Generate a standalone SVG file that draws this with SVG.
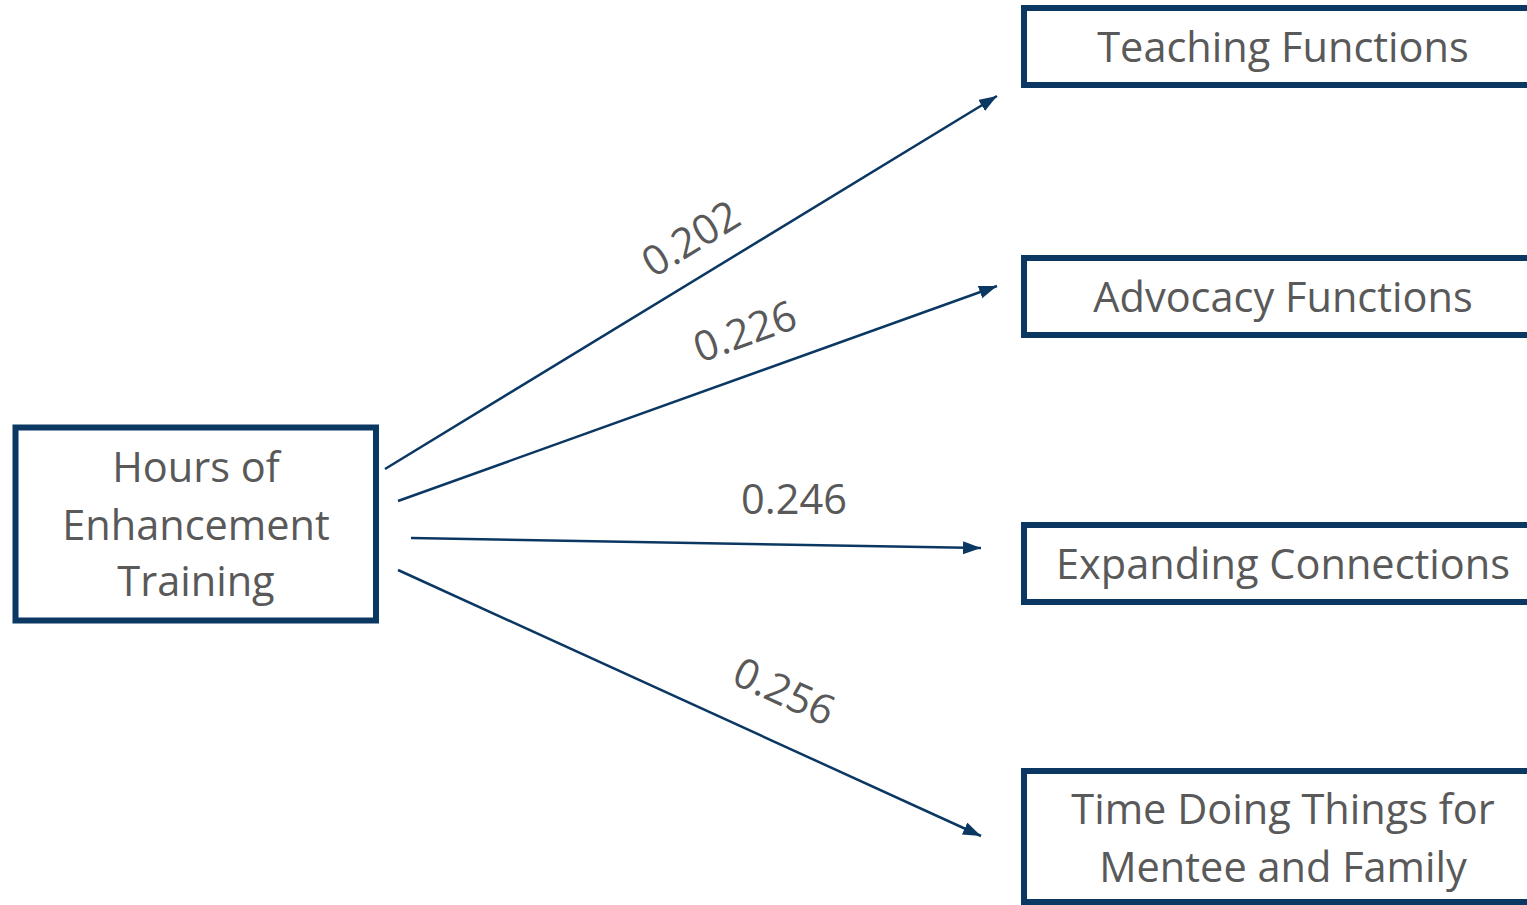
<svg xmlns="http://www.w3.org/2000/svg" width="1527" height="905" viewBox="0 0 1527 905">
<defs>
<marker id="arr" markerUnits="userSpaceOnUse" markerWidth="20" markerHeight="14" refX="18" refY="6.5" orient="auto">
<path d="M0,0 L18,6.5 L0,13 Z" fill="#0b3763"/>
</marker>
<style>
.box{fill:#ffffff;stroke:#0b3763;stroke-width:6}
.t{font-family:"Open Sans","Noto Sans","DejaVu Sans",sans-serif;font-size:41.5px;fill:#595959;text-anchor:middle}
.c{stroke:#0b3763;stroke-width:2.5;fill:none;marker-end:url(#arr)}
</style>
</defs>
<rect width="1527" height="905" fill="#ffffff"/>
<g id="connectors">
<line class="c" x1="385" y1="469" x2="997" y2="96"/>
<line class="c" x1="398" y1="501" x2="997" y2="286"/>
<line class="c" x1="411" y1="538" x2="981" y2="548"/>
<line class="c" x1="398" y1="570" x2="981" y2="836"/>
<text class="t" transform="translate(691,239) rotate(-31.4)" y="14">0.202</text>
<text class="t" transform="translate(745,332) rotate(-19.7)" y="14">0.226</text>
<text class="t" x="794" y="514">0.246</text>
<text class="t" transform="translate(784,692) rotate(24.5)" y="14">0.256</text>
</g>
<g id="source">
<rect class="box" x="15.5" y="427.5" width="360.5" height="193"/>
<text class="t" x="196" y="482">Hours of</text>
<text class="t" x="196" y="540">Enhancement</text>
<text class="t" x="196" y="596">Training</text>
</g>
<g id="teaching">
<rect class="box" x="1024" y="8" width="520" height="77"/>
<text class="t" x="1283" y="62">Teaching Functions</text>
</g>
<g id="advocacy">
<rect class="box" x="1024" y="258" width="520" height="77"/>
<text class="t" x="1283" y="312">Advocacy Functions</text>
</g>
<g id="expanding">
<rect class="box" x="1024" y="525" width="520" height="77"/>
<text class="t" x="1283" y="579">Expanding Connections</text>
</g>
<g id="time">
<rect class="box" x="1024" y="771" width="520" height="131"/>
<text class="t" x="1283" y="824">Time Doing Things for</text>
<text class="t" x="1283" y="882">Mentee and Family</text>
</g>
</svg>
